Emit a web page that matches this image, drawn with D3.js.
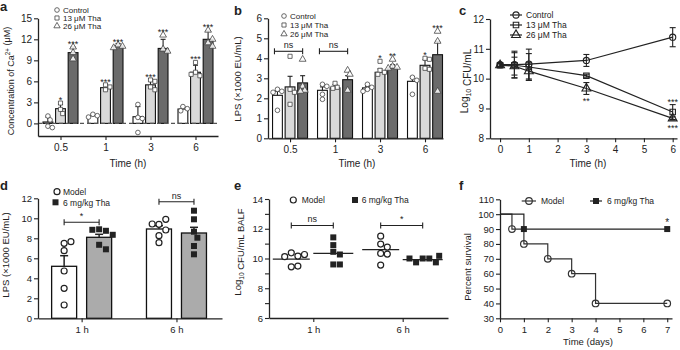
<!DOCTYPE html>
<html><head><meta charset="utf-8">
<script src="https://cdn.jsdelivr.net/npm/d3@7"></script>
<style>
body{margin:0;background:#fff}
svg{display:block}
text{font-family:Arial,"Liberation Sans",sans-serif;fill:#222}
</style>
</head><body>
<svg id="c" width="680" height="350"></svg>
<script>
// ---------------- DATA ----------------
const times = ["0.5","1","3","6"];
const treatments = ["Control","13 μM Tha","26 μM Tha"];

// panel a: Ca2+ (μM)
const caTicks = [0,3,6,9,12,15];
const caControl = [0.2,1.1,0.95,2.05];
const caControlErr = [0.7,0.2,1.45,0.35];
const caTha13 = [2.1,5.1,5.5,7.3];
const caTha13Err = [0.6,0.5,0.9,1.0];
const caTha26 = [10.1,11.05,10.7,12.0];
const caTha26Err = [0.8,0.35,1.3,1.2];
const caPtsControl = [[1.05,0.5,-0.4,-0.6],[1.3,1.1,0.9],[2.7,0.85,0.7,-1.3],[2.4,2.1,1.8]];
const caPtsTha13 = [[2.9,2.0,1.4],[5.5,5.2,4.8],[6.2,6.0,5.2,4.8],[8.7,7.3,6.8,7.0]];
const caPtsTha26 = [[10.9,10.1,9.2],[11.2,11.0,10.8],[12.6,10.6,10.3],[13.3,11.5,11.0,12.0]];
const caStarsControl = ["","","",""];
const caStars13 = ["*","***","***","***"];
const caStars26 = ["***","***","***","***"];

// panel b: LPS (x1000 EU/mL)
const lpsTicks = [0,1,2,3,4,5,6];
const lpsControl = [2.15,2.4,2.52,2.85];
const lpsControlErr = [0.2,0.17,0.08,0.22];
const lpsTha13 = [2.57,2.52,3.3,3.65];
const lpsTha13Err = [0.53,0.16,0.17,0.28];
const lpsTha26 = [2.77,2.93,3.52,4.18];
const lpsTha26Err = [0.36,0.2,0.16,0.67];
const lpsPtsControl = [[2.45,2.35,2.3,1.4],[2.7,2.6,2.2,1.95],[2.7,2.55,2.45,2.35],[3.05,2.9,2.2]];
const lpsPtsTha13 = [[4.1,2.45,2.3,1.7],[2.75,2.55,2.5],[3.85,3.4,3.3,3.2],[4.0,3.95,3.5,3.45]];
const lpsPtsTha26 = [[3.95,2.6,2.4,2.35],[3.4,3.2,2.4],[3.95,3.6,3.55,3.5],[5.35,4.85,2.35]];
const lpsStarsControl = ["","","",""];
const lpsStars13 = ["","","*","*"];
const lpsStars26 = ["","","**","***"];
const lpsNsTimes = ["0.5","1"];
const lpsNsLevel = 4.35;

// panel c: Log10 CFU/mL over time
const cfuTime = [0,0.5,1,3,6];
const cfuTicksX = [0,1,2,3,4,5,6];
const cfuTicksY = [8,9,10,11,12];
const cfuControl = [10.47,10.47,10.49,10.61,11.39];
const cfuControlErr = [0.05,0.45,0.5,0.2,0.32];
const cfuTha13 = [10.45,10.45,10.39,10.1,8.88];
const cfuTha13Err = [0.05,0.42,0.45,0.05,0.25];
const cfuTha26 = [10.45,10.42,10.25,9.67,8.67];
const cfuTha26Err = [0.05,0.3,0.3,0.2,0.05];
const cfuStars = [{t:3,v:9.33,s:"**"},{t:6,v:9.3,s:"***"},{t:6,v:8.42,s:"***"}];

// panel d: LPS in vivo
const dCats = ["1 h","6 h"];
const dGroups = ["Model","6 mg/kg Tha"];
const dTicks = [0,2,4,6,8,10,12];
const dModel = [5.2,8.93];
const dModelErr = [1.06,0.33];
const dTha = [8.1,8.53];
const dThaErr = [0.3,0.57];
const dModelPts = [[7.5,7.66,6.76,4.73,3.0,1.33],[9.4,9.9,9.43,8.83,8.26,7.56]];
const dThaPts = [[8.9,8.75,8.85,8.35,7.35,6.9],[10.76,9.9,8.66,8.06,7.23,6.4]];
const dSig = ["*","ns"];
const dSigLevel = [9.6,11.66];

// panel e: Log10 CFU/mL BALF
const eTicks = [6,7,8,9,10,11,12,13,14];
const eModelPts = [[10.38,10.16,10.12,10.27,9.44,9.49],[11.5,10.97,10.77,10.34,10.3,9.56]];
const eThaPts = [[11.42,10.9,10.45,10.27,9.6,9.6],[10.0,10.0,9.74,9.74,10.0,10.18]];
const eModelMean = [9.96,10.59];
const eThaMean = [10.34,9.93];
const eSig = ["ns","*"];
const eSigLevel = 12.22;

// panel f: survival
const fTicksX = [0,1,2,3,4,5,6,7];
const fTicksY = [30,40,50,60,70,80,90,100,110];
const survModelT = [0,0.5,1,2,3,4,7];
const survModel = [100,90,80,70,60,40,40];
const survThaT = [0,1,7];
const survTha = [100,90,90];
const fStar = {t:7,v:95,s:"*"};

// ---------------- DRAWING ----------------
const svg = d3.select("#c");
const INK = "#222";
const barFills = ["#ffffff","#d9d9d9","#6b6b6b"];
const smallSyms = [d3.symbolCircle,d3.symbolSquare,d3.symbolTriangle];
const intFmt = d3.format("d");

function styleAxis(sel, fs){
  sel.select(".domain").attr("stroke",INK).attr("stroke-width",1.3);
  sel.selectAll(".tick line").attr("stroke",INK).attr("stroke-width",1.1);
  sel.selectAll(".tick text").attr("font-size",fs).attr("fill",INK)
     .attr("font-family",'Arial,"Liberation Sans",sans-serif');
}
function leftAxis(g,y,x0,ticks,fs,fmt){
  const ax = d3.axisLeft(y).tickValues(ticks).tickSize(4).tickSizeOuter(0).tickPadding(2).tickFormat(fmt||intFmt);
  g.append("g").attr("transform",`translate(${x0},0)`).call(ax).call(s=>styleAxis(s,fs));
}
function bottomAxis(g,x,y0,ticks,fs,fmt){
  const ax = d3.axisBottom(x).tickValues(ticks).tickSize(4).tickSizeOuter(0).tickPadding(4).tickFormat(fmt||intFmt);
  g.append("g").attr("transform",`translate(0,${y0})`).call(ax).call(s=>styleAxis(s,fs));
}
function yTitle(g,cx,cy,parts,fs){
  const t = g.append("text").attr("transform",`translate(${cx},${cy}) rotate(-90)`)
    .attr("text-anchor","middle").attr("font-size",fs);
  parts.forEach(p=>{
    if(p.sup){ t.append("tspan").attr("dy",-fs*0.4).attr("font-size",fs*0.7).text(p.sup);
               t.append("tspan").attr("dy",fs*0.4).text(""); }
    else if(p.sub){ t.append("tspan").attr("dy",fs*0.3).attr("font-size",fs*0.7).text(p.sub);
               t.append("tspan").attr("dy",-fs*0.3).text(""); }
    else t.append("tspan").text(p.t);
  });
  return t;
}
function panelLetter(x,y,s){
  svg.append("text").attr("x",x).attr("y",y).attr("font-size",13).attr("font-weight","bold").text(s);
}
// simple beeswarm dodge
function dodge(vals,y,r,step){
  const placed=[];
  return vals.map(v=>{
    const py=y(v);
    for(let k=0;k<60;k++){
      const off=(k%2===1?1:-1)*Math.ceil(k/2)*step;
      if(placed.every(p=>(p.x-off)**2+(p.y-py)**2>=(2*r)**2)){
        placed.push({x:off,y:py}); return {dx:off,y:py,v};
      }
    }
    return {dx:0,y:py,v};
  });
}
function errBar(g,cx,yTop,yBot,cap,w){
  g.append("line").attr("x1",cx).attr("x2",cx).attr("y1",yTop).attr("y2",yBot).attr("stroke",INK).attr("stroke-width",w);
  g.append("line").attr("x1",cx-cap/2).attr("x2",cx+cap/2).attr("y1",yTop).attr("y2",yTop).attr("stroke",INK).attr("stroke-width",w);
}
function bracket(g,xa,xb,yv,label,fs){
  g.append("line").attr("x1",xa).attr("x2",xb).attr("y1",yv).attr("y2",yv).attr("stroke",INK).attr("stroke-width",1.1);
  [xa,xb].forEach(xx=>g.append("line").attr("x1",xx).attr("x2",xx).attr("y1",yv-3).attr("y2",yv+3).attr("stroke",INK).attr("stroke-width",1.1));
  g.append("text").attr("x",(xa+xb)/2).attr("y",yv-3).attr("text-anchor","middle").attr("font-size",fs).text(label);
}

// grouped bar panel (a, b)
function groupedBars(g,x,y,series,errs,pts,stars){
  const inner = d3.scaleBand().domain([0,1,2]).range([-17.5,17.5]).paddingInner(0.22);
  const bw = inner.bandwidth();
  const cxOf=(s,i)=>x(i)+inner(s)+bw/2;
  series.forEach((vals,s)=>vals.forEach((v,i)=>{
    g.append("rect").attr("x",cxOf(s,i)-bw/2).attr("y",y(v)).attr("width",bw).attr("height",y(0)-y(v))
      .attr("fill",barFills[s]).attr("stroke","#111").attr("stroke-width",1.1);
  }));
  series.forEach((vals,s)=>vals.forEach((v,i)=>{
    errBar(g,cxOf(s,i),y(v+errs[s][i]),y(v),5,1.1);
  }));
  pts.forEach((grp,s)=>grp.forEach((vals,i)=>{
    dodge(vals,y,2.2,2.2).forEach(p=>{
      g.append("path").attr("d",d3.symbol(smallSyms[s],s===2?20:17)())
        .attr("transform",`translate(${cxOf(s,i)+p.dx},${p.y})`)
        .attr("fill","#fff").attr("fill-opacity",s===2?0.85:1).attr("stroke","#444").attr("stroke-width",0.8);
    });
  }));
  stars.forEach((arr,s)=>arr.forEach((st,i)=>{
    if(!st) return;
    const top = Math.min(y(series[s][i]+errs[s][i]), y(d3.max(pts[s][i]))-3);
    g.append("text").attr("x",cxOf(s,i)).attr("y",top+3).attr("text-anchor","middle").attr("font-size",9).text(st);
  }));
  return cxOf;
}
function smallLegend(g,x,ys,labels,fs){
  labels.forEach((lab,k)=>{
    g.append("path").attr("d",d3.symbol(smallSyms[k],17)()).attr("transform",`translate(${x},${ys[k]})`)
      .attr("fill","#fff").attr("stroke","#444").attr("stroke-width",0.8);
    g.append("text").attr("x",x+6).attr("y",ys[k]+3).attr("font-size",fs).text(lab);
  });
}

// ===== Panel a =====
{
  const g = svg.append("g");
  const x = d3.scaleLinear().domain([-0.5,3.5]).range([38,218]);
  const y = d3.scaleLinear().domain([-1.8,15]).range([136,18.3]);
  groupedBars(g,x,y,[caControl,caTha13,caTha26],[caControlErr,caTha13Err,caTha26Err],
    [caPtsControl,caPtsTha13,caPtsTha26],[caStarsControl,caStars13,caStars26]);
  g.append("line").attr("x1",38).attr("x2",218).attr("y1",y(0)).attr("y2",y(0))
    .attr("stroke","#555").attr("stroke-width",1.3).attr("stroke-dasharray","4,3");
  leftAxis(g,y,38,caTicks,10);
  bottomAxis(g,x,136,[0,1,2,3],10,i=>times[i]);
  g.append("text").attr("x",128).attr("y",167).attr("text-anchor","middle").attr("font-size",10).text("Time (h)");
  yTitle(g,14,81,[{t:"Concentration of Ca"},{sup:"2+"},{t:" (μM)"}],9);
  smallLegend(g,57,[10,18,26],treatments,8);
  panelLetter(0,11,"a");
}

// ===== Panel b =====
{
  const g = svg.append("g");
  const x = d3.scaleLinear().domain([-0.49,3.4]).range([268,443]);
  const y = d3.scaleLinear().domain([0,6]).range([138.3,18.3]);
  const cxOf = groupedBars(g,x,y,[lpsControl,lpsTha13,lpsTha26],[lpsControlErr,lpsTha13Err,lpsTha26Err],
    [lpsPtsControl,lpsPtsTha13,lpsPtsTha26],[lpsStarsControl,lpsStars13,lpsStars26]);
  lpsNsTimes.forEach(t=>{
    const i = times.indexOf(t);
    bracket(g,cxOf(0,i)-3,cxOf(2,i),y(lpsNsLevel),"ns",9);
  });
  leftAxis(g,y,268,lpsTicks,10);
  bottomAxis(g,x,138.3,[0,1,2,3],10,i=>times[i]);
  g.append("text").attr("x",357).attr("y",167).attr("text-anchor","middle").attr("font-size",10).text("Time (h)");
  yTitle(g,241,79,[{t:"LPS (×1000 EU/mL)"}],9.5);
  smallLegend(g,284,[16,25,34],treatments,8);
  panelLetter(234,15,"b");
}

// ===== Panel c =====
{
  const g = svg.append("g");
  const x = d3.scaleLinear().domain([-0.35,6.15]).range([490,677]);
  const y = d3.scaleLinear().domain([8,12]).range([138.3,19]);
  const series=[cfuControl,cfuTha13,cfuTha26], errs=[cfuControlErr,cfuTha13Err,cfuTha26Err];
  const line = d3.line().x((d,i)=>x(cfuTime[i])).y(d=>y(d));
  series.forEach((vals,s)=>{
    g.append("path").attr("d",line(vals)).attr("fill","none").attr("stroke",INK).attr("stroke-width",1.2);
  });
  series.forEach((vals,s)=>vals.forEach((v,i)=>{
    const cx=x(cfuTime[i]);
    g.append("line").attr("x1",cx).attr("x2",cx).attr("y1",y(v+errs[s][i])).attr("y2",y(v-errs[s][i])).attr("stroke",INK).attr("stroke-width",1.1);
    [v+errs[s][i],v-errs[s][i]].forEach(e=>g.append("line").attr("x1",cx-3).attr("x2",cx+3).attr("y1",y(e)).attr("y2",y(e)).attr("stroke",INK).attr("stroke-width",1.1));
  }));
  series.forEach((vals,s)=>vals.forEach((v,i)=>{
    g.append("path").attr("d",d3.symbol(smallSyms[s],s===2?34:30)()).attr("transform",`translate(${x(cfuTime[i])},${y(v)})`)
      .attr("fill","none").attr("stroke",INK).attr("stroke-width",1.1);
  }));
  cfuStars.forEach(st=>g.append("text").attr("x",x(st.t)).attr("y",y(st.v)+5).attr("text-anchor","middle").attr("font-size",9).text(st.s));
  leftAxis(g,y,490,cfuTicksY,10);
  bottomAxis(g,x,138.3,cfuTicksX,10);
  g.append("text").attr("x",588).attr("y",167).attr("text-anchor","middle").attr("font-size",10).text("Time (h)");
  yTitle(g,468,81,[{t:"Log"},{sub:"10"},{t:" CFU/mL"}],10);
  treatments.forEach((lab,k)=>{
    const yy=15+k*10;
    g.append("line").attr("x1",510).attr("x2",522).attr("y1",yy).attr("y2",yy).attr("stroke",INK).attr("stroke-width",1.2);
    g.append("path").attr("d",d3.symbol(smallSyms[k],k===2?34:30)()).attr("transform",`translate(516,${yy})`)
      .attr("fill","none").attr("stroke",INK).attr("stroke-width",1.1);
    g.append("text").attr("x",526).attr("y",yy+3).attr("font-size",8.5).text(lab);
  });
  panelLetter(459,15,"c");
}

// ===== Panel d =====
{
  const g = svg.append("g");
  const x = d3.scaleLinear().domain([-0.46,1.48]).range([38,222]);
  const y = d3.scaleLinear().domain([0,12]).range([318.3,198.3]);
  const inner = d3.scaleBand().domain([0,1]).range([-30,30]).paddingInner(0.2857);
  const bw = inner.bandwidth();
  const cxOf=(s,i)=>x(i)+inner(s)+bw/2;
  const means=[dModel,dTha], errs=[dModelErr,dThaErr], pts=[dModelPts,dThaPts];
  const fills=["#ffffff","#ababab"];
  means.forEach((vals,s)=>vals.forEach((v,i)=>{
    g.append("rect").attr("x",cxOf(s,i)-bw/2).attr("y",y(v)).attr("width",bw).attr("height",y(0)-y(v))
      .attr("fill",fills[s]).attr("stroke","#111").attr("stroke-width",1.3);
    errBar(g,cxOf(s,i),y(v+errs[s][i]),y(v),8,1.5);
  }));
  pts.forEach((grp,s)=>grp.forEach((vals,i)=>{
    dodge(vals,y,3.4,3.4).forEach(p=>{
      if(s===0) g.append("circle").attr("cx",cxOf(s,i)+p.dx).attr("cy",p.y).attr("r",3)
        .attr("fill","#fff").attr("stroke","#222").attr("stroke-width",1.2);
      else g.append("rect").attr("x",cxOf(s,i)+p.dx-3).attr("y",p.y-3).attr("width",6).attr("height",6).attr("fill","#222");
    });
  }));
  dSig.forEach((lab,i)=>bracket(g,cxOf(0,i),cxOf(1,i),y(dSigLevel[i]),lab,9));
  leftAxis(g,y,38,dTicks,9.5);
  bottomAxis(g,x,318.3,[0,1],9.5,i=>dCats[i]);
  yTitle(g,9,255,[{t:"LPS (×1000 EU/mL)"}],9.5);
  g.append("circle").attr("cx",57).attr("cy",191.7).attr("r",3).attr("fill","#fff").attr("stroke","#222").attr("stroke-width",1.2);
  g.append("text").attr("x",63).attr("y",194.7).attr("font-size",8.5).text(dGroups[0]);
  g.append("rect").attr("x",52.5).attr("y",199.3).attr("width",6).attr("height",6).attr("fill","#222");
  g.append("text").attr("x",63).attr("y",205.5).attr("font-size",8.5).text(dGroups[1]);
  panelLetter(0,190,"d");
}

// ===== Panel e =====
{
  const g = svg.append("g");
  const x = d3.scaleLinear().domain([-0.4955,1.507]).range([269,448]);
  const y = d3.scaleLinear().domain([6,14]).range([318,199]);
  const offs=[-22,20], widths=[37,40];
  const pts=[eModelPts,eThaPts], means=[eModelMean,eThaMean];
  means.forEach((vals,s)=>vals.forEach((v,i)=>{
    const cx=x(i)+offs[s];
    g.append("line").attr("x1",cx-widths[s]/2).attr("x2",cx+widths[s]/2).attr("y1",y(v)).attr("y2",y(v)).attr("stroke","#222").attr("stroke-width",1.2);
  }));
  pts.forEach((grp,s)=>grp.forEach((vals,i)=>{
    const cx=x(i)+offs[s];
    dodge(vals,y,3.3,3.3).forEach(p=>{
      if(s===0) g.append("circle").attr("cx",cx+p.dx).attr("cy",p.y).attr("r",3)
        .attr("fill","#fff").attr("stroke","#222").attr("stroke-width",1.2);
      else g.append("rect").attr("x",cx+p.dx-3).attr("y",p.y-3).attr("width",6).attr("height",6).attr("fill","#222");
    });
  }));
  eSig.forEach((lab,i)=>bracket(g,x(i)+offs[0],x(i)+offs[1],y(eSigLevel),lab,9));
  leftAxis(g,y,269,eTicks,9.5,d=>d%2===0?d:"");
  bottomAxis(g,x,318,[0,1],9.5,i=>dCats[i]);
  yTitle(g,241,252,[{t:"Log"},{sub:"10"},{t:" CFU/mL BALF"}],9.5);
  g.append("circle").attr("cx",293.3).attr("cy",200).attr("r",3).attr("fill","#fff").attr("stroke","#222").attr("stroke-width",1.2);
  g.append("text").attr("x",301.7).attr("y",203).attr("font-size",8.5).text(dGroups[0]);
  g.append("rect").attr("x",352).attr("y",197).attr("width",6).attr("height",6).attr("fill","#222");
  g.append("text").attr("x",361.7).attr("y",203).attr("font-size",8.5).text(dGroups[1]);
  panelLetter(234,190,"e");
}

// ===== Panel f =====
{
  const g = svg.append("g");
  const x = d3.scaleLinear().domain([0,7.2]).range([500,672]);
  const y = d3.scaleLinear().domain([30,110]).range([318.3,199.3]);
  const step = d3.line().curve(d3.curveStepAfter);
  g.append("path").attr("d",step(survModelT.map((t,i)=>[x(t),y(survModel[i])]))).attr("fill","none").attr("stroke","#333").attr("stroke-width",1.2);
  g.append("path").attr("d",step(survThaT.map((t,i)=>[x(t),y(survTha[i])]))).attr("fill","none").attr("stroke","#222").attr("stroke-width",1.2);
  survModelT.forEach((t,i)=>{ if(i===0) return;
    g.append("circle").attr("cx",x(t)).attr("cy",y(survModel[i])).attr("r",3.3).attr("fill","none").attr("stroke","#333").attr("stroke-width",1.2);
  });
  survThaT.forEach((t,i)=>{ if(i===0) return;
    g.append("rect").attr("x",x(t)-3).attr("y",y(survTha[i])-3).attr("width",6).attr("height",6).attr("fill","#222");
  });
  g.append("text").attr("x",x(fStar.t)).attr("y",y(fStar.v)+4).attr("text-anchor","middle").attr("font-size",10).text(fStar.s);
  leftAxis(g,y,500,fTicksY,9.5);
  bottomAxis(g,x,318.3,fTicksX,9.5);
  g.append("text").attr("x",588).attr("y",345).attr("text-anchor","middle").attr("font-size",9.5).text("Time (days)");
  yTitle(g,471,267,[{t:"Percent survival"}],9.5);
  // legend
  g.append("line").attr("x1",521.7).attr("x2",536).attr("y1",201).attr("y2",201).attr("stroke","#333").attr("stroke-width",1.2);
  g.append("circle").attr("cx",529).attr("cy",201).attr("r",3.3).attr("fill","none").attr("stroke","#333").attr("stroke-width",1.2);
  g.append("text").attr("x",541).attr("y",204).attr("font-size",8.5).text(dGroups[0]);
  g.append("line").attr("x1",590).attr("x2",602).attr("y1",201).attr("y2",201).attr("stroke","#222").attr("stroke-width",1.2);
  g.append("rect").attr("x",593).attr("y",198).attr("width",6).attr("height",6).attr("fill","#222");
  g.append("text").attr("x",607).attr("y",204).attr("font-size",8.5).text(dGroups[1]);
  panelLetter(459,190,"f");
}
</script>
</body></html>
